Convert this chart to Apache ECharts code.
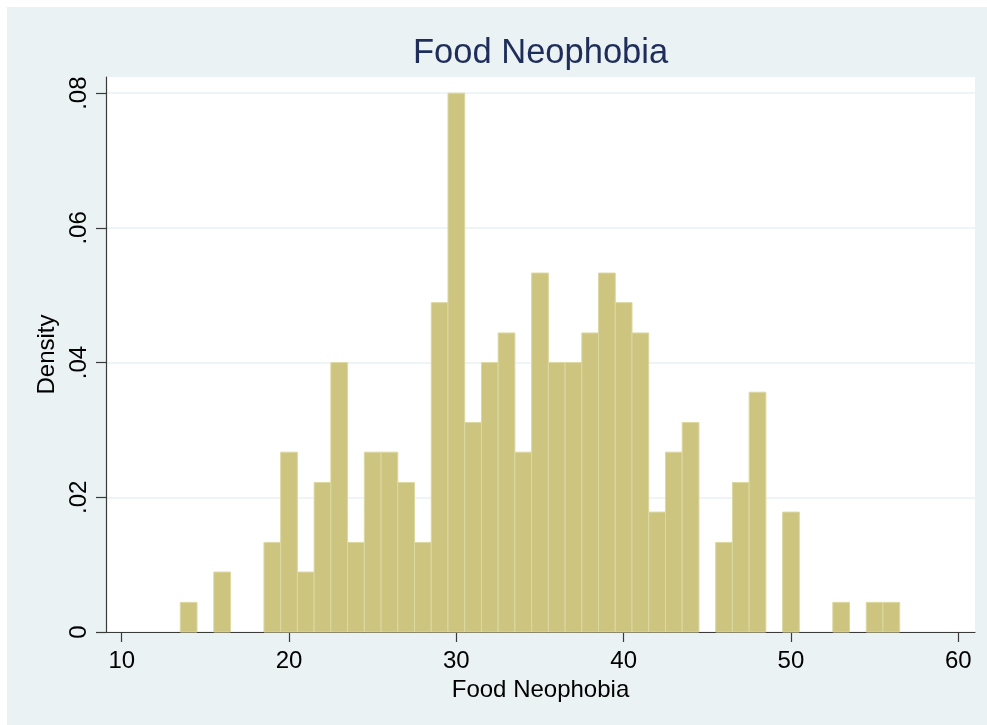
<!DOCTYPE html>
<html>
<head>
<meta charset="utf-8">
<title>Food Neophobia</title>
<script src="https://cdn.jsdelivr.net/npm/echarts@6/dist/echarts.min.js"></script>
<style>
  html, body { margin: 0; padding: 0; background: #ffffff; }
  #chart { width: 987px; height: 725px; }
</style>
</head>
<body>
<div id="chart"></div>
<script>
// Histogram of Food Neophobia scores, one bin per integer score (bin width 1)
const binCenters = [14, 16, 19, 20, 21, 22, 23, 24, 25, 26, 27, 28, 29, 30, 31, 32, 33, 34, 35,
                    36, 37, 38, 39, 40, 41, 42, 43, 44, 46, 47, 48, 50, 53, 55, 56];
const densities  = [0.0044, 0.0089, 0.0133, 0.0267, 0.0089, 0.0222, 0.0400, 0.0133, 0.0267, 0.0267,
                    0.0222, 0.0133, 0.0489, 0.0800, 0.0311, 0.0400, 0.0444, 0.0267, 0.0533,
                    0.0400, 0.0400, 0.0444, 0.0533, 0.0489, 0.0444, 0.0178, 0.0267, 0.0311,
                    0.0133, 0.0222, 0.0356, 0.0178, 0.0044, 0.0044, 0.0044];
const binWidth = 1;
const xTicks = [10, 20, 30, 40, 50, 60];
const yTicks = [0, 0.02, 0.04, 0.06, 0.08];

const FONT = '"Liberation Sans", Arial, sans-serif';
const BG = '#EAF2F3';

const chart = echarts.init(document.getElementById('chart'), null, { renderer: 'canvas' });

const option = {
  animation: false,
  backgroundColor: '#ffffff',
  textStyle: { fontFamily: FONT },
  graphic: [{
    type: 'rect',
    z: -10,
    silent: true,
    shape: { x: 7, y: 7, width: 980, height: 718 },
    style: { fill: BG }
  }],
  title: {
    text: 'Food Neophobia',
    left: 413,
    top: 36,
    padding: 0,
    textStyle: { fontFamily: FONT, fontSize: 34.5, fontWeight: 'normal', color: '#1E2D5A' }
  },
  grid: {
    left: 106, right: 12, top: 77, bottom: 93,
    show: true, backgroundColor: '#ffffff', borderWidth: 0
  },
  xAxis: {
    type: 'value',
    min: 9.06, max: 61,
    name: 'Food Neophobia',
    nameLocation: 'middle',
    nameGap: 36,
    nameTextStyle: { fontFamily: FONT, fontSize: 24, color: '#000' },
    axisLine: { show: true, onZero: false, lineStyle: { color: '#3a3a3a', width: 1.2 } },
    axisTick: { show: true, inside: false, length: 10, customValues: xTicks,
                lineStyle: { color: '#3a3a3a', width: 1.2 } },
    axisLabel: { customValues: xTicks, margin: 17, fontFamily: FONT, fontSize: 24, color: '#000' },
    splitLine: { show: false }
  },
  yAxis: {
    type: 'value',
    min: 0, max: 0.0824,
    name: 'Density',
    nameLocation: 'middle',
    nameGap: 43,
    nameRotate: 90,
    nameTextStyle: { fontFamily: FONT, fontSize: 24, color: '#000' },
    axisLine: { show: true, lineStyle: { color: '#3a3a3a', width: 1.2 } },
    axisTick: { show: true, length: 10, customValues: yTicks,
                lineStyle: { color: '#3a3a3a', width: 1.2 } },
    axisLabel: {
      customValues: yTicks,
      rotate: 90,
      margin: 15,
      fontFamily: FONT, fontSize: 24, color: '#000',
      formatter: v => (v === 0 ? '0' : String(v).replace(/^0\./, '.'))
    },
    splitLine: { show: true, lineStyle: { color: BG, width: 1.5 } }
  },
  series: [{
    type: 'custom',
    data: binCenters.map((c, i) => [c, densities[i]]),
    encode: { x: 0, y: 1 },
    renderItem: function (params, api) {
      const c = api.value(0);
      const d = api.value(1);
      const topLeft = api.coord([c - binWidth / 2, d]);
      const bottomRight = api.coord([c + binWidth / 2, 0]);
      return {
        type: 'rect',
        shape: {
          x: topLeft[0],
          y: topLeft[1],
          width: bottomRight[0] - topLeft[0],
          height: bottomRight[1] - topLeft[1]
        },
        style: { fill: '#CCC47F', stroke: '#DCD8A2', lineWidth: 1 }
      };
    }
  }]
};

chart.setOption(option);
</script>
</body>
</html>
